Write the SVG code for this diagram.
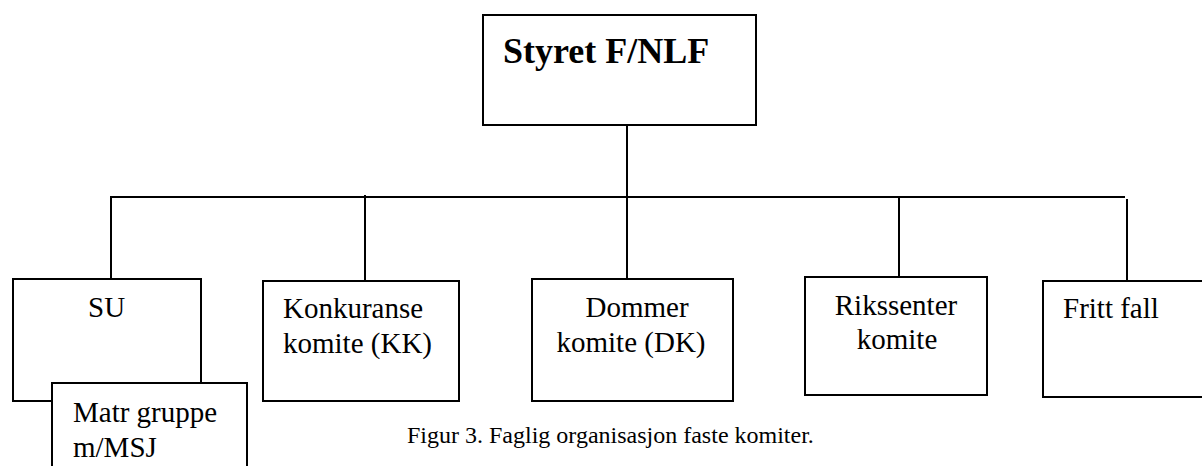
<svg xmlns="http://www.w3.org/2000/svg" width="1202" height="466" viewBox="0 0 1202 466">
<style>
.box{fill:#fff;stroke:#000;stroke-width:2}
.ln{fill:none;stroke:#000;stroke-width:2}
</style>
<rect width="1202" height="466" fill="#fff"/>
<g id="connectors">
<line class="ln" x1="627" y1="126" x2="627" y2="279"/>
<line class="ln" x1="110" y1="197" x2="1125" y2="197"/>
<line class="ln" x1="111" y1="197" x2="111" y2="279"/>
<line class="ln" x1="365" y1="195" x2="365" y2="281"/>
<line class="ln" x1="899" y1="197" x2="899" y2="277"/>
<line class="ln" x1="1127" y1="199" x2="1127" y2="281"/>
</g>
<g font-family="'Times New Roman', 'Liberation Serif', serif" fill="#000">
<g id="styret">
<rect class="box" x="483" y="15" width="273" height="110"/>
<text x="503" y="63" font-size="36" font-weight="bold">Styret F/NLF</text>
</g>
<g id="su" font-size="29">
<rect class="box" x="13" y="279" width="188" height="122"/>
<text x="88" y="317">SU</text>
</g>
<g id="matr" font-size="29">
<rect class="box" x="52" y="383" width="195" height="90"/>
<text x="73" y="422">Matr gruppe</text>
<text x="73" y="457">m/MSJ</text>
</g>
<g id="kk" font-size="29">
<rect class="box" x="263" y="281" width="196" height="120"/>
<text x="283" y="318">Konkuranse</text>
<text x="283" y="353">komite (KK)</text>
</g>
<g id="dk" font-size="29">
<rect class="box" x="532" y="279" width="201" height="122"/>
<text x="637" y="317" text-anchor="middle">Dommer</text>
<text x="631" y="352" text-anchor="middle">komite (DK)</text>
</g>
<g id="rikssenter" font-size="29">
<rect class="box" x="805" y="277" width="182" height="118"/>
<text x="896" y="315" text-anchor="middle">Rikssenter</text>
<text x="897" y="349" text-anchor="middle">komite</text>
</g>
<g id="frittfall" font-size="29">
<rect class="box" x="1043" y="281" width="170" height="116"/>
<text x="1063" y="318">Fritt fall</text>
</g>
<text x="407" y="443" font-size="24">Figur 3. Faglig organisasjon faste komiter.</text>
</g>
</svg>
